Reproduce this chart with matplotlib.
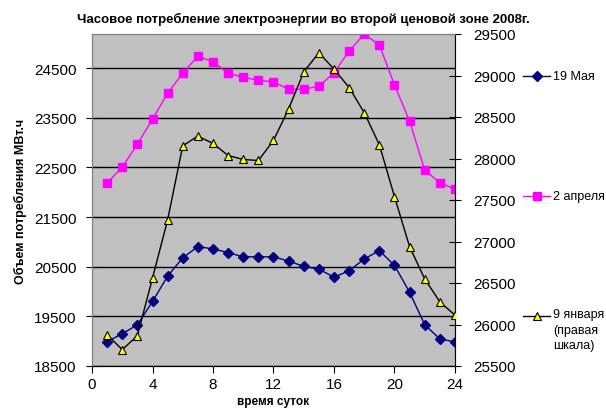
import matplotlib
matplotlib.use('Agg')
import matplotlib.pyplot as plt
from matplotlib.lines import Line2D

plt.rcParams['font.family'] = ['Liberation Sans', 'DejaVu Sans']

# Hours of the day
hours = list(range(1, 25))

# 19 May (left axis)
may19 = [18990, 19150, 19330, 19800, 20310, 20680, 20905, 20860, 20785, 20700,
         20700, 20700, 20615, 20507, 20453, 20290, 20420, 20656, 20825, 20527,
         19985, 19330, 19045, 18985]

# 2 April (left axis)
apr2 = [22190, 22505, 22970, 23473, 23997, 24400, 24742, 24628, 24400, 24319,
        24258, 24225, 24077, 24077, 24138, 24406, 24849, 25185, 24970, 24164,
        23433, 22446, 22191, 22064]

# 9 January (right axis)
jan9 = [25877, 25697, 25865, 26560, 27260, 28153, 28270, 28181, 28036, 27988,
        27976, 28218, 28597, 29044, 29274, 29077, 28855, 28552, 28165, 27540,
        26936, 26548, 26273, 26112]

left_ticks = [18500, 19500, 20500, 21500, 22500, 23500, 24500]
right_ticks = [25500, 26000, 26500, 27000, 27500, 28000, 28500, 29000, 29500]
x_ticks = [0, 4, 8, 12, 16, 20, 24]

fig = plt.figure(figsize=(6.06, 4.10), dpi=100)
ax = fig.add_axes([92 / 606, 43 / 410, 363 / 606, 332 / 410])
ax.set_facecolor('#C0C0C0')

may_style = dict(color='#000080', marker='D', ms=5, mfc='#000080', mec='#000080')
apr_style = dict(color='#FF00FF', marker='s', ms=6, mfc='#FF00FF', mec='#FF00FF')
jan_style = dict(color='black', marker='^', ms=6, mfc='#FFFF00', mec='black', mew=0.8)

ax.plot(hours, may19, lw=1, zorder=3, **may_style)
ax.plot(hours, apr2, lw=1, zorder=3, **apr_style)

ax.set_xlim(0, 24)
ax.set_ylim(18500, 25190)
ax.set_xticks(x_ticks)
ax.set_yticks(left_ticks)
ax.yaxis.grid(True, color='black', lw=1)
ax.set_axisbelow(True)
ax.tick_params(axis='y', direction='inout', length=8, labelsize=11, pad=7)
ax.tick_params(axis='x', direction='out', length=5, labelsize=11, pad=3)
for s in ['top', 'right', 'left']:
    ax.spines[s].set_color('#808080')
ax.spines['bottom'].set_color('black')

ax.set_ylabel('Объем потребления МВт.ч', fontsize=9, fontweight='bold', labelpad=5)
ax.set_xlabel('время суток', fontsize=8.5, fontweight='bold', labelpad=3)

ax2 = ax.twinx()
ax2.plot(hours, jan9, lw=1, zorder=3, **jan_style)
ax2.set_ylim(25500, 29500)
ax2.set_yticks(right_ticks)
ax2.tick_params(axis='y', direction='inout', length=8, labelsize=11, pad=9)
ax2.spines['right'].set_color('black')
ax2.spines['top'].set_color('#808080')
ax2.spines['left'].set_color('#808080')

fig.suptitle('Часовое потребление электроэнергии во второй ценовой зоне 2008г.',
             x=0.5, y=0.968, fontsize=9.5, fontweight='bold')

# legend entries placed beside the plot
entries = [('19 Мая', 77, may_style), ('2 апреля', 197, apr_style),
           ('9 января\n(правая\nшкала)', 317, jan_style)]
for label, ypix, style in entries:
    yf = 1 - ypix / 410
    fig.add_artist(Line2D([523 / 606, 550 / 606], [yf, yf], lw=1,
                          color=style['color'], transform=fig.transFigure))
    fig.add_artist(Line2D([536.5 / 606], [yf], lw=0, transform=fig.transFigure, **style))
    if '\n' in label:
        fig.text(553 / 606, yf + 8 / 410, label, fontsize=9, va='top', linespacing=1.4)
    else:
        fig.text(553 / 606, yf, label, fontsize=9, va='center')

fig.savefig('out.png', dpi=100)
